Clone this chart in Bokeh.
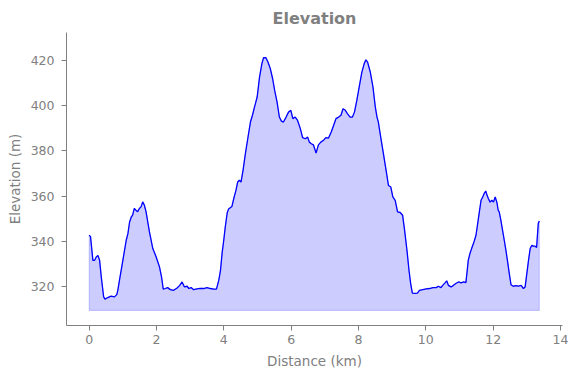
from bokeh.plotting import figure
from bokeh.embed import file_html
from bokeh.resources import INLINE
from bokeh.models import Range1d, FixedTicker

distance_km = [
    0.00, 0.04, 0.11, 0.16, 0.21, 0.26, 0.31, 0.36, 0.43, 0.47, 0.55, 0.65, 0.75, 0.82, 0.85, 0.90,
    1.00, 1.10, 1.15, 1.20, 1.25, 1.29, 1.34, 1.39, 1.44, 1.49, 1.54, 1.59, 1.64, 1.69, 1.74, 1.79,
    1.84, 1.89, 1.99, 2.09, 2.15, 2.20, 2.26, 2.33, 2.41, 2.51, 2.61, 2.69, 2.76, 2.83, 2.91, 2.96,
    3.03, 3.10, 3.20, 3.30, 3.40, 3.50, 3.60, 3.70, 3.78, 3.85, 3.90, 3.95, 3.99, 4.04, 4.10, 4.14,
    4.24, 4.31, 4.36, 4.41, 4.46, 4.51, 4.57, 4.64, 4.71, 4.79, 4.85, 4.91, 4.99, 5.06, 5.13, 5.18,
    5.25, 5.31, 5.38, 5.45, 5.51, 5.58, 5.65, 5.71, 5.77, 5.85, 5.92, 5.99, 6.05, 6.12, 6.19, 6.27,
    6.34, 6.42, 6.49, 6.54, 6.60, 6.66, 6.74, 6.81, 6.88, 6.96, 7.03, 7.11, 7.19, 7.26, 7.33, 7.41,
    7.48, 7.54, 7.61, 7.67, 7.75, 7.82, 7.88, 7.95, 8.02, 8.10, 8.17, 8.22, 8.27, 8.35, 8.43, 8.50,
    8.55, 8.59, 8.66, 8.74, 8.82, 8.89, 8.96, 9.02, 9.09, 9.16, 9.24, 9.31, 9.37, 9.44, 9.50, 9.55,
    9.60, 9.68, 9.75, 9.81, 9.91, 10.01, 10.11, 10.21, 10.31, 10.37, 10.45, 10.50, 10.57, 10.62, 10.67, 10.75,
    10.82, 10.89, 10.97, 11.05, 11.12, 11.19, 11.23, 11.26, 11.31, 11.36, 11.43, 11.49, 11.54, 11.59, 11.64, 11.69,
    11.74, 11.78, 11.82, 11.86, 11.91, 11.96, 12.01, 12.06, 12.11, 12.15, 12.18, 12.23, 12.28, 12.33, 12.38, 12.43,
    12.48, 12.53, 12.60, 12.67, 12.75, 12.83, 12.90, 12.95, 13.00, 13.05, 13.10, 13.15, 13.19, 13.24, 13.29, 13.34,
    13.37,
]

elevation_m = [
    342.6, 342.0, 331.5, 331.5, 333.0, 333.7, 331.5, 324.0, 315.3, 314.3, 315.0, 315.6, 315.3, 316.3, 318.2, 322.7,
    331.5, 340.4, 343.3, 348.5, 350.7, 351.5, 354.5, 353.7, 353.0, 354.5, 355.2, 357.4, 355.9, 353.0, 348.5, 344.1,
    340.4, 336.7, 333.0, 328.5, 324.1, 318.7, 319.0, 319.4, 318.5, 318.2, 319.2, 320.4, 321.9, 319.7, 320.0, 319.0,
    319.4, 318.5, 318.8, 319.1, 319.0, 319.4, 319.0, 318.7, 318.7, 322.7, 327.0, 335.0, 339.5, 346.0, 352.6, 354.2,
    355.4, 359.8, 362.5, 366.2, 367.0, 366.2, 371.4, 378.8, 385.4, 392.8, 395.8, 399.4, 403.9, 412.7, 418.7, 421.3,
    421.3, 419.4, 416.5, 412.0, 406.8, 401.7, 395.0, 393.2, 392.8, 395.0, 397.2, 398.0, 394.3, 395.0, 393.5, 390.0,
    385.9, 385.4, 386.1, 383.9, 383.2, 382.7, 379.1, 382.7, 383.9, 384.7, 385.9, 385.7, 388.4, 391.3, 394.3, 395.0,
    395.8, 398.7, 398.0, 396.5, 395.0, 395.0, 397.2, 402.4, 408.3, 414.9, 418.7, 420.4, 419.4, 415.0, 408.3, 399.4,
    395.0, 392.8, 386.1, 378.8, 371.4, 364.7, 364.0, 359.6, 358.1, 353.0, 352.7, 351.5, 344.8, 335.9, 327.1, 321.2,
    317.0, 316.8, 317.0, 318.2, 318.5, 318.8, 319.0, 319.4, 319.4, 320.0, 319.4, 320.4, 321.5, 322.4, 320.4, 319.7,
    320.4, 321.2, 321.9, 321.5, 321.9, 321.6, 327.1, 331.5, 334.5, 336.7, 339.6, 342.6, 347.8, 353.0, 358.1, 359.6,
    361.3, 362.2, 360.3, 358.8, 357.3, 358.1, 357.3, 359.6, 357.3, 353.7, 353.0, 349.2, 344.8, 340.4, 335.9, 330.8,
    325.6, 320.7, 320.0, 320.3, 320.1, 320.4, 319.0, 319.7, 325.6, 331.5, 336.7, 338.2, 337.8, 337.8, 337.2, 347.8,
    348.9,
]

x_ticks = [0, 2, 4, 6, 8, 10, 12, 14]
y_ticks = [320, 340, 360, 380, 400, 420]

base = min(elevation_m) - 5

GRAY = "#808080"
FONT = "DejaVu Sans"

p = figure(
    width=578, height=378,
    output_backend="svg", toolbar_location=None,
    x_range=Range1d(-0.674, 14.06), y_range=Range1d(302.6, 432.5),
    min_border_left=66, min_border_right=16, min_border_top=32, min_border_bottom=53,
    title="Elevation",
)
p.outline_line_color = None
p.grid.visible = False
p.background_fill_color = "white"

p.title.text_font = FONT
p.title.text_font_size = "16px"
p.title.text_font_style = "bold"
p.title.text_color = GRAY
p.title.align = "center"

# area fill
patch_x = distance_km + distance_km[::-1]
patch_y = elevation_m + [base] * len(distance_km)
p.patch(patch_x, patch_y, fill_color="blue", fill_alpha=0.2,
        line_color="blue", line_alpha=0.2, line_width=1)
p.line(distance_km, elevation_m, line_color="blue", line_width=1.3)

for ax in (p.xaxis[0], p.yaxis[0]):
    ax.axis_line_color = GRAY
    ax.major_tick_line_color = GRAY
    ax.minor_tick_line_color = None
    ax.major_tick_out = 5
    ax.major_tick_in = 0
    ax.major_label_text_color = GRAY
    ax.major_label_text_font = FONT
    ax.major_label_text_font_size = "12.5px"
    ax.axis_label_text_color = GRAY
    ax.axis_label_text_font = FONT
    ax.axis_label_text_font_size = "13.5px"
    ax.axis_label_text_font_style = "normal"

p.xaxis[0].ticker = FixedTicker(ticks=x_ticks)
p.yaxis[0].ticker = FixedTicker(ticks=y_ticks)
p.xaxis[0].axis_label = "Distance (km)"
p.yaxis[0].axis_label = "Elevation (m)"
p.xaxis[0].major_label_standoff = 4
p.yaxis[0].major_label_standoff = 7
p.xaxis[0].axis_label_standoff = 6
p.yaxis[0].axis_label_standoff = 5

open("out.html", "w").write(file_html(p, INLINE))
